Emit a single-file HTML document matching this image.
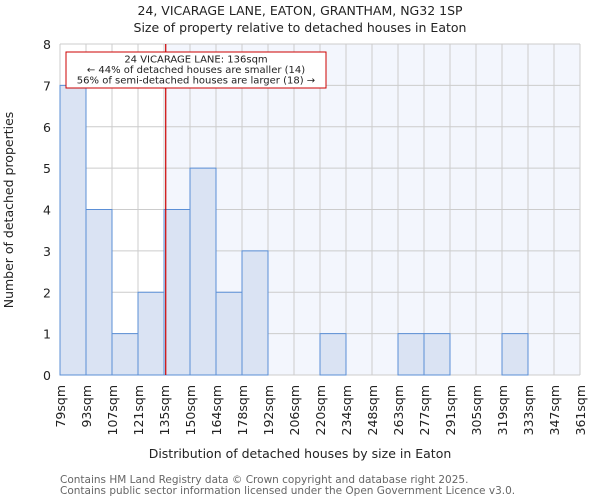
<!DOCTYPE html>
<html><head><meta charset="utf-8"><style>
body{margin:0;background:#fff;font-family:"DejaVu Sans","Liberation Sans",sans-serif;}
svg text{font-family:"DejaVu Sans","Liberation Sans",sans-serif;fill:#222;}
</style></head><body>
<svg id="c" width="600" height="500">
<text x="300" y="15" text-anchor="middle" font-size="12.5">24, VICARAGE LANE, EATON, GRANTHAM, NG32 1SP</text>
<text x="300" y="32" text-anchor="middle" font-size="12.5">Size of property relative to detached houses in Eaton</text>
<g id="plot"></g>
<text x="300" y="458" text-anchor="middle" font-size="12.5">Distribution of detached houses by size in Eaton</text>
<text transform="translate(13,210) rotate(-90)" text-anchor="middle" font-size="12.5">Number of detached properties</text>
<text x="60" y="483" font-size="10.5" style="fill:#666">Contains HM Land Registry data © Crown copyright and database right 2025.</text>
<text x="60" y="494" font-size="10.5" style="fill:#666">Contains public sector information licensed under the Open Government Licence v3.0.</text>
</svg>
<script>
const binEdges=[79,93,107,121,135,150,164,178,192,206,220,234,248,263,277,291,305,319,333,347,361];
const counts=[7,4,1,2,4,5,2,3,0,0,1,0,0,1,1,0,0,1,0,0];
const yTicks=[0,1,2,3,4,5,6,7,8];
const propertySize=136;
const NS="http://www.w3.org/2000/svg";
const g=document.getElementById('plot');
const X0=60,X1=580,Y0=375,Y1=44,nb=counts.length,bw=(X1-X0)/nb;
function xIdx(i){return X0+i*bw;}
function xVal(v){for(let i=0;i<nb;i++){if(v>=binEdges[i]&&v<=binEdges[i+1])return xIdx(i)+bw*(v-binEdges[i])/(binEdges[i+1]-binEdges[i]);}return X1;}
function y(v){return Y0-(Y0-Y1)*v/8;}
function mk(t,a,p){const e=document.createElementNS(NS,t);for(const k in a)e.setAttribute(k,a[k]);(p||g).appendChild(e);return e;}
const lx=xVal(propertySize);
let bg=mk('rect',{x:lx,y:Y1,width:X1-lx,height:Y0-Y1,fill:'#f3f6fd'});


for(let i=0;i<=nb;i++){let l=mk('line',{x1:xIdx(i),x2:xIdx(i),y1:Y1,y2:Y0,stroke:'#cccccc','stroke-width':1});

}
yTicks.forEach(t=>{let l=mk('line',{x1:X0,x2:X1,y1:y(t),y2:y(t),stroke:'#cccccc','stroke-width':1});


let tx=mk('text',{x:X0-9,y:y(t)+5,'text-anchor':'end','font-size':12.5});tx.textContent=t;

});
counts.forEach((c,i)=>{let r=mk('rect',{x:xIdx(i),y:y(c),width:bw,height:Y0-y(c),fill:'#dae3f3',stroke:'#5b8fd6','stroke-width':1});

});
binEdges.forEach((b,i)=>{let t=mk('text',{transform:`translate(${xIdx(i)+5},${Y0+10}) rotate(-90)`,'text-anchor':'end','font-size':12.5});t.textContent=b+'sqm';

});
let pl=mk('line',{x1:lx,x2:lx,y1:Y1,y2:Y0,stroke:'#cc0000','stroke-width':1.2});


let ab=mk('rect',{x:66,y:52,width:260,height:36,fill:'#fff',stroke:'#cc0000','stroke-width':1});


['24 VICARAGE LANE: 136sqm','← 44% of detached houses are smaller (14)','56% of semi-detached houses are larger (18) →'].forEach((s,i)=>{let t=mk('text',{x:196,y:62.5+i*10.5,'text-anchor':'middle','font-size':10});t.textContent=s;

});
</script>
</body></html>
